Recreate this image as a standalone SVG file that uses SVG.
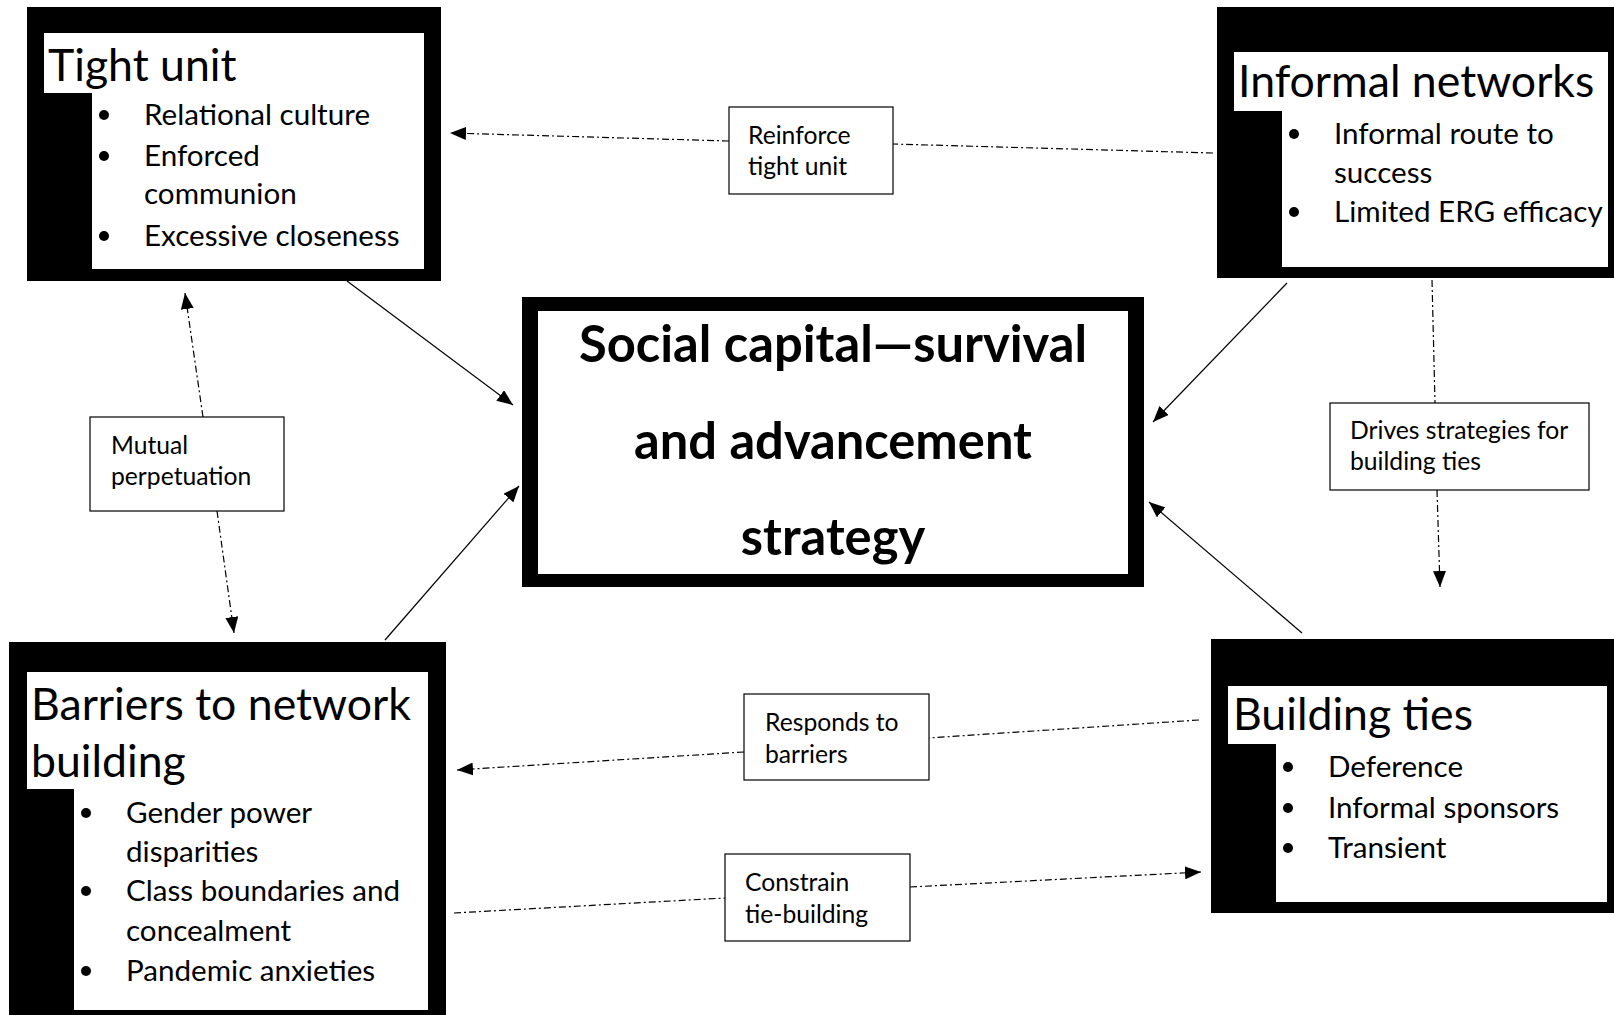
<svg xmlns="http://www.w3.org/2000/svg" width="1614" height="1015" viewBox="0 0 1614 1015">
  <style>
    .frame { fill: #000; }
    .panel { fill: #fff; }
    .title { font-family: Lato, "Liberation Sans", sans-serif; font-size: 44.6px; fill: #000; }
    .item { font-family: Lato, "Liberation Sans", sans-serif; font-size: 29.6px; fill: #000; }
    .core { font-family: Lato, "Liberation Sans", sans-serif; font-size: 50.7px; font-weight: bold; fill: #000; text-anchor: middle; }
    .tag { font-family: Lato, "Liberation Sans", sans-serif; font-size: 24.7px; fill: #000; }
    .tagbox { fill: #fff; stroke: #000; stroke-width: 1.2; }
    .link { fill: none; stroke: #000; stroke-width: 1.2; }
    .dashdot { fill: none; stroke: #000; stroke-width: 1.2; stroke-dasharray: 7 3 2 3; }
  </style>
  <defs>
    <marker id="head" viewBox="0 0 16 13" markerWidth="16" markerHeight="13" refX="16" refY="6.5" orient="auto" markerUnits="userSpaceOnUse">
      <path d="M0,0 L16,6.5 L0,13 z" fill="#000"/>
    </marker>
  </defs>

  <rect width="1614" height="1015" fill="#fff"/>

  <!-- connectors -->
  <g id="connectors">
    <!-- solid links into the central strategy box -->
    <line class="link" x1="347" y1="281" x2="513" y2="405" marker-end="url(#head)"/>
    <line class="link" x1="1287" y1="283" x2="1153" y2="422" marker-end="url(#head)"/>
    <line class="link" x1="385" y1="640" x2="519" y2="486" marker-end="url(#head)"/>
    <line class="link" x1="1302" y1="633" x2="1149" y2="502" marker-end="url(#head)"/>

    <!-- labelled dash-dot links -->
    <line class="dashdot" x1="1213" y1="153" x2="893" y2="144"/>
    <line class="dashdot" x1="729" y1="141" x2="450" y2="133" marker-end="url(#head)"/>

    <line class="dashdot" x1="203" y1="417" x2="185" y2="293" marker-end="url(#head)"/>
    <line class="dashdot" x1="217" y1="511" x2="234" y2="633" marker-end="url(#head)"/>

    <line class="dashdot" x1="1432" y1="280" x2="1435" y2="403"/>
    <line class="dashdot" x1="1437" y1="490" x2="1440" y2="587" marker-end="url(#head)"/>

    <line class="dashdot" x1="1199" y1="720" x2="929" y2="738"/>
    <line class="dashdot" x1="744" y1="752" x2="457" y2="770" marker-end="url(#head)"/>

    <line class="dashdot" x1="454" y1="913" x2="725" y2="898"/>
    <line class="dashdot" x1="910" y1="887" x2="1201" y2="872" marker-end="url(#head)"/>
  </g>

  <!-- Tight unit -->
  <g id="tight-unit">
    <rect class="frame" x="27" y="7" width="414" height="274"/>
    <path class="panel" d="M44,33 H424 V269 H92 V93 H44 Z"/>
    <text class="title" x="48" y="81">Tight unit</text>
    <circle cx="104" cy="115" r="5"/>
    <circle cx="104" cy="156" r="5"/>
    <circle cx="104" cy="236" r="5"/>
    <text class="item" x="144" y="125">Relational culture</text>
    <text class="item" x="144" y="166">Enforced</text>
    <text class="item" x="144" y="204">communion</text>
    <text class="item" x="144" y="246">Excessive closeness</text>
  </g>

  <!-- Informal networks -->
  <g id="informal-networks">
    <rect class="frame" x="1217" y="7" width="400" height="271"/>
    <path class="panel" d="M1234,52 H1608 V267 H1282 V111 H1234 Z"/>
    <text class="title" x="1238" y="97">Informal networks</text>
    <circle cx="1294" cy="134" r="5"/>
    <circle cx="1294" cy="212" r="5"/>
    <text class="item" x="1334" y="144">Informal route to</text>
    <text class="item" x="1334" y="183">success</text>
    <text class="item" x="1334" y="222">Limited ERG efficacy</text>
  </g>

  <!-- Barriers to network building -->
  <g id="barriers">
    <rect class="frame" x="9" y="642" width="437" height="380"/>
    <path class="panel" d="M27,672 H428 V1010 H74 V789 H27 Z"/>
    <text class="title" x="31" y="720">Barriers to network</text>
    <text class="title" x="31" y="777">building</text>
    <circle cx="86" cy="813" r="5"/>
    <circle cx="86" cy="891" r="5"/>
    <circle cx="86" cy="971" r="5"/>
    <text class="item" x="126" y="823">Gender power</text>
    <text class="item" x="126" y="862">disparities</text>
    <text class="item" x="126" y="901">Class boundaries and</text>
    <text class="item" x="126" y="941">concealment</text>
    <text class="item" x="126" y="981">Pandemic anxieties</text>
  </g>

  <!-- Building ties -->
  <g id="building-ties">
    <rect class="frame" x="1211" y="639" width="406" height="274"/>
    <path class="panel" d="M1228,686 H1607 V902 H1276 V744 H1228 Z"/>
    <text class="title" x="1233" y="730">Building ties</text>
    <circle cx="1288" cy="767" r="5"/>
    <circle cx="1288" cy="808" r="5"/>
    <circle cx="1288" cy="848" r="5"/>
    <text class="item" x="1328" y="777">Deference</text>
    <text class="item" x="1328" y="818">Informal sponsors</text>
    <text class="item" x="1328" y="858">Transient</text>
  </g>

  <!-- Central strategy -->
  <g id="social-capital">
    <rect class="frame" x="522" y="297" width="622" height="290"/>
    <rect class="panel" x="538" y="311" width="590" height="263"/>
    <text class="core" x="833" y="362">Social capital—survival</text>
    <text class="core" x="833" y="459">and advancement</text>
    <text class="core" x="833" y="555">strategy</text>
  </g>

  <!-- Edge labels -->
  <g id="label-reinforce">
    <rect class="tagbox" x="729" y="107" width="164" height="87"/>
    <text class="tag" x="748" y="144">Reinforce</text>
    <text class="tag" x="748" y="175">tight unit</text>
  </g>

  <g id="label-mutual">
    <rect class="tagbox" x="90" y="417" width="194" height="94"/>
    <text class="tag" x="111" y="454">Mutual</text>
    <text class="tag" x="111" y="485">perpetuation</text>
  </g>

  <g id="label-drives">
    <rect class="tagbox" x="1330" y="403" width="259" height="87"/>
    <text class="tag" x="1350" y="439">Drives strategies for</text>
    <text class="tag" x="1350" y="470">building ties</text>
  </g>

  <g id="label-responds">
    <rect class="tagbox" x="744" y="694" width="185" height="86"/>
    <text class="tag" x="765" y="731">Responds to</text>
    <text class="tag" x="765" y="763">barriers</text>
  </g>

  <g id="label-constrain">
    <rect class="tagbox" x="725" y="854" width="185" height="87"/>
    <text class="tag" x="745" y="891">Constrain</text>
    <text class="tag" x="745" y="923">tie-building</text>
  </g>
</svg>
